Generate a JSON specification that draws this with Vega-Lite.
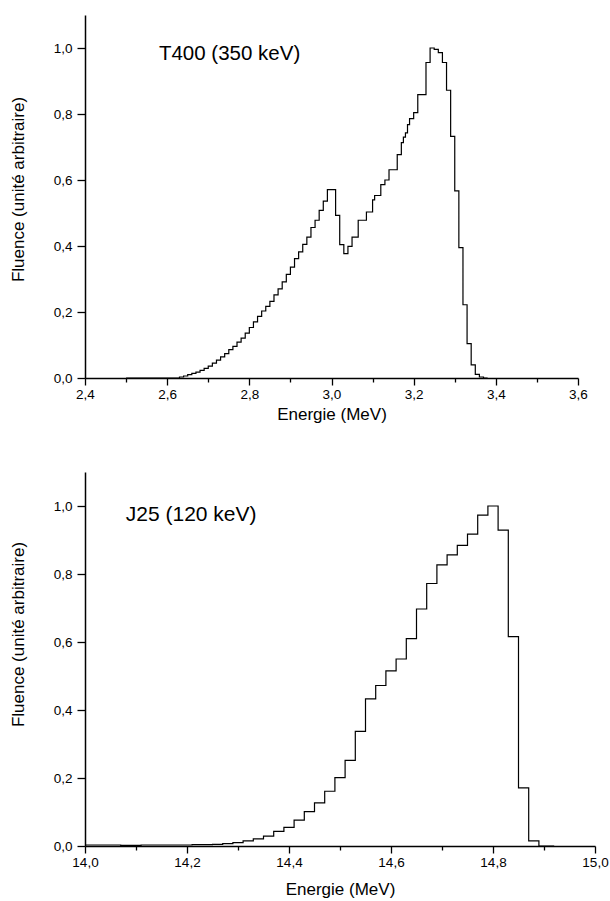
{
  "$schema": "https://vega.github.io/schema/vega-lite/v6.json",
  "background": "white",
  "padding": {"left": 9, "top": 15, "right": 0, "bottom": 0},
  "spacing": 49,
  "config": {
    "view": {"stroke": null},
    "font": "Liberation Sans",
    "axis": {
      "grid": false,
      "domainColor": "black",
      "domainWidth": 1.5,
      "tickColor": "black",
      "tickWidth": 1.3,
      "labelColor": "black",
      "labelFontSize": 13.5,
      "labelFont": "Liberation Sans",
      "titleFont": "Liberation Sans",
      "titleFontSize": 17,
      "titleFontWeight": "normal",
      "titleColor": "black",
      "labelOverlap": false,
      "labelFlush": false
    }
  },
  "vconcat": [
    {
      "width": 493,
      "height": 363,
      "layer": [
        {
          "data": {
            "values": [
              {"energie": 2.50, "fluence": 0},
              {"energie": 2.63, "fluence": 0.003},
              {"energie": 2.64, "fluence": 0.006},
              {"energie": 2.65, "fluence": 0.010},
              {"energie": 2.66, "fluence": 0.014},
              {"energie": 2.67, "fluence": 0.018},
              {"energie": 2.68, "fluence": 0.023},
              {"energie": 2.69, "fluence": 0.029},
              {"energie": 2.70, "fluence": 0.036},
              {"energie": 2.71, "fluence": 0.045},
              {"energie": 2.72, "fluence": 0.054},
              {"energie": 2.73, "fluence": 0.064},
              {"energie": 2.74, "fluence": 0.074},
              {"energie": 2.75, "fluence": 0.086},
              {"energie": 2.76, "fluence": 0.096},
              {"energie": 2.77, "fluence": 0.109},
              {"energie": 2.78, "fluence": 0.121},
              {"energie": 2.79, "fluence": 0.136},
              {"energie": 2.80, "fluence": 0.153},
              {"energie": 2.81, "fluence": 0.170},
              {"energie": 2.82, "fluence": 0.187},
              {"energie": 2.83, "fluence": 0.203},
              {"energie": 2.84, "fluence": 0.217},
              {"energie": 2.85, "fluence": 0.232},
              {"energie": 2.86, "fluence": 0.252},
              {"energie": 2.87, "fluence": 0.270},
              {"energie": 2.88, "fluence": 0.291},
              {"energie": 2.89, "fluence": 0.314},
              {"energie": 2.90, "fluence": 0.336},
              {"energie": 2.91, "fluence": 0.362},
              {"energie": 2.92, "fluence": 0.382},
              {"energie": 2.93, "fluence": 0.405},
              {"energie": 2.94, "fluence": 0.427},
              {"energie": 2.95, "fluence": 0.456},
              {"energie": 2.96, "fluence": 0.478},
              {"energie": 2.97, "fluence": 0.508},
              {"energie": 2.98, "fluence": 0.536},
              {"energie": 2.99, "fluence": 0.571},
              {"energie": 3.01, "fluence": 0.493},
              {"energie": 3.02, "fluence": 0.404},
              {"energie": 3.03, "fluence": 0.377},
              {"energie": 3.04, "fluence": 0.399},
              {"energie": 3.05, "fluence": 0.427},
              {"energie": 3.065, "fluence": 0.478},
              {"energie": 3.085, "fluence": 0.503},
              {"energie": 3.10, "fluence": 0.540},
              {"energie": 3.105, "fluence": 0.553},
              {"energie": 3.12, "fluence": 0.586},
              {"energie": 3.13, "fluence": 0.600},
              {"energie": 3.14, "fluence": 0.631},
              {"energie": 3.16, "fluence": 0.677},
              {"energie": 3.17, "fluence": 0.713},
              {"energie": 3.175, "fluence": 0.730},
              {"energie": 3.18, "fluence": 0.743},
              {"energie": 3.185, "fluence": 0.768},
              {"energie": 3.19, "fluence": 0.786},
              {"energie": 3.20, "fluence": 0.804},
              {"energie": 3.21, "fluence": 0.859},
              {"energie": 3.23, "fluence": 0.956},
              {"energie": 3.24, "fluence": 1.000},
              {"energie": 3.25, "fluence": 0.996},
              {"energie": 3.26, "fluence": 0.986},
              {"energie": 3.27, "fluence": 0.956},
              {"energie": 3.28, "fluence": 0.872},
              {"energie": 3.29, "fluence": 0.732},
              {"energie": 3.30, "fluence": 0.567},
              {"energie": 3.31, "fluence": 0.395},
              {"energie": 3.32, "fluence": 0.222},
              {"energie": 3.33, "fluence": 0.104},
              {"energie": 3.34, "fluence": 0.040},
              {"energie": 3.35, "fluence": 0.011},
              {"energie": 3.36, "fluence": 0.003},
              {"energie": 3.37, "fluence": 0},
              {"energie": 3.38, "fluence": 0}
            ]
          },
          "mark": {"type": "line", "interpolate": "step-after", "color": "black", "strokeWidth": 1.2},
          "encoding": {
            "x": {
              "field": "energie",
              "type": "quantitative",
              "scale": {"domain": [2.4, 3.6], "nice": false, "zero": false},
              "axis": {
                "title": "Energie (MeV)",
                "values": [2.4, 2.5, 2.6, 2.7, 2.8, 2.9, 3.0, 3.1, 3.2, 3.3, 3.4, 3.5, 3.6],
                "labelExpr": "round(datum.value*10)%2==0 ? replace(format(datum.value,'.1f'),'.',',') : ''",
                "tickSize": {"condition": {"test": "round(datum.value*10)%2==0", "value": 7}, "value": 4},
                "labelPadding": 2,
                "titlePadding": 6
              }
            },
            "y": {
              "field": "fluence",
              "type": "quantitative",
              "scale": {"domain": [0, 1.1], "nice": false},
              "axis": {
                "title": "Fluence (unité arbitraire)",
                "values": [0, 0.1, 0.2, 0.3, 0.4, 0.5, 0.6, 0.7, 0.8, 0.9, 1.0, 1.1],
                "labelExpr": "round(datum.value*10)%2==0 ? replace(format(datum.value,'.1f'),'.',',') : ''",
                "tickSize": {"condition": {"test": "round(datum.value*10)%2==0", "value": 8}, "value": 5},
                "labelPadding": 5,
                "titlePadding": 26,
                "titleY": 174
              }
            }
          }
        },
        {
          "data": {"values": [{"label": "T400 (350 keV)"}]},
          "mark": {"type": "text", "align": "left", "baseline": "middle", "fontSize": 20.5, "font": "Liberation Sans", "color": "black"},
          "encoding": {
            "x": {"datum": 2.58, "type": "quantitative"},
            "y": {"datum": 0.983, "type": "quantitative"},
            "text": {"field": "label"}
          }
        }
      ]
    },
    {
      "width": 510,
      "height": 374,
      "layer": [
        {
          "data": {
            "values": [
              {"energie": 14.00, "fluence": 0.003},
              {"energie": 14.07, "fluence": 0.002},
              {"energie": 14.11, "fluence": 0.003},
              {"energie": 14.21, "fluence": 0.004},
              {"energie": 14.23, "fluence": 0.004},
              {"energie": 14.25, "fluence": 0.005},
              {"energie": 14.27, "fluence": 0.007},
              {"energie": 14.29, "fluence": 0.010},
              {"energie": 14.31, "fluence": 0.015},
              {"energie": 14.33, "fluence": 0.021},
              {"energie": 14.35, "fluence": 0.029},
              {"energie": 14.37, "fluence": 0.043},
              {"energie": 14.39, "fluence": 0.055},
              {"energie": 14.41, "fluence": 0.076},
              {"energie": 14.43, "fluence": 0.101},
              {"energie": 14.45, "fluence": 0.127},
              {"energie": 14.47, "fluence": 0.161},
              {"energie": 14.49, "fluence": 0.201},
              {"energie": 14.51, "fluence": 0.252},
              {"energie": 14.53, "fluence": 0.337},
              {"energie": 14.55, "fluence": 0.433},
              {"energie": 14.57, "fluence": 0.472},
              {"energie": 14.59, "fluence": 0.515},
              {"energie": 14.61, "fluence": 0.550},
              {"energie": 14.63, "fluence": 0.610},
              {"energie": 14.65, "fluence": 0.697},
              {"energie": 14.67, "fluence": 0.772},
              {"energie": 14.69, "fluence": 0.827},
              {"energie": 14.71, "fluence": 0.856},
              {"energie": 14.73, "fluence": 0.884},
              {"energie": 14.75, "fluence": 0.917},
              {"energie": 14.77, "fluence": 0.973},
              {"energie": 14.79, "fluence": 1.000},
              {"energie": 14.81, "fluence": 0.929},
              {"energie": 14.83, "fluence": 0.616},
              {"energie": 14.85, "fluence": 0.171},
              {"energie": 14.87, "fluence": 0.015},
              {"energie": 14.89, "fluence": 0},
              {"energie": 14.92, "fluence": 0}
            ]
          },
          "mark": {"type": "line", "interpolate": "step-after", "color": "black", "strokeWidth": 1.2},
          "encoding": {
            "x": {
              "field": "energie",
              "type": "quantitative",
              "scale": {"domain": [14.0, 15.0], "nice": false, "zero": false},
              "axis": {
                "title": "Energie (MeV)",
                "values": [14.0, 14.1, 14.2, 14.3, 14.4, 14.5, 14.6, 14.7, 14.8, 14.9, 15.0],
                "labelExpr": "round(datum.value*10)%2==0 ? replace(format(datum.value,'.1f'),'.',',') : ''",
                "tickSize": {"condition": {"test": "round(datum.value*10)%2==0", "value": 7}, "value": 4},
                "labelPadding": 2,
                "titlePadding": 13
              }
            },
            "y": {
              "field": "fluence",
              "type": "quantitative",
              "scale": {"domain": [0, 1.1], "nice": false},
              "axis": {
                "title": "Fluence (unité arbitraire)",
                "values": [0, 0.1, 0.2, 0.3, 0.4, 0.5, 0.6, 0.7, 0.8, 0.9, 1.0, 1.1],
                "labelExpr": "round(datum.value*10)%2==0 ? replace(format(datum.value,'.1f'),'.',',') : ''",
                "tickSize": {"condition": {"test": "round(datum.value*10)%2==0", "value": 8}, "value": 5},
                "labelPadding": 5,
                "titlePadding": 26,
                "titleY": 162
              }
            }
          }
        },
        {
          "data": {"values": [{"label": "J25 (120 keV)"}]},
          "mark": {"type": "text", "align": "left", "baseline": "middle", "fontSize": 21, "font": "Liberation Sans", "color": "black"},
          "encoding": {
            "x": {"datum": 14.08, "type": "quantitative"},
            "y": {"datum": 0.974, "type": "quantitative"},
            "text": {"field": "label"}
          }
        }
      ]
    }
  ]
}
